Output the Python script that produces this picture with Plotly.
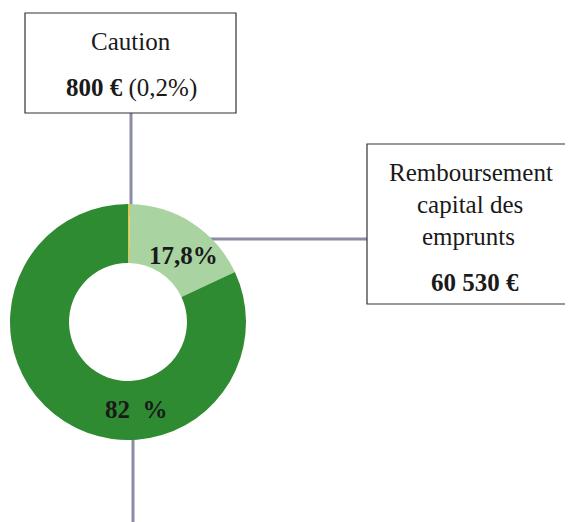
import plotly.graph_objects as go

# ---- data ----
labels = ["Caution", "Remboursement capital des emprunts", "Autres"]
values = [800, 60530, 278670]
slice_texts = ["", "<b>17,8%</b>", "<b>82  %</b>"]
colors = ["#f2c12e", "#a9d3a0", "#2f8b31"]

OFF = 8  # page body margin
W, H = 573 - OFF, 522 - OFF

def X(px):
    return (px - OFF) / W

def Y(py):
    return 1 - (py - OFF) / H

cx, cy, R = 128, 322, 118  # pixel geometry of the donut (page coords)

fig = go.Figure()
fig.add_trace(go.Pie(
    labels=labels, values=values, hole=0.5, sort=False, direction="clockwise",
    rotation=0, marker=dict(colors=colors, line=dict(width=0)),
    textinfo="none", hoverinfo="label+value+percent", showlegend=False,
    domain=dict(x=[X(cx - R), X(cx + R)], y=[Y(cy + R), Y(cy - R)]),
))

serif = "Liberation Serif"
line_col = "#8c8ca4"

def line(x0, y0, x1, y1):
    fig.add_shape(type="line", xref="paper", yref="paper",
                  x0=X(x0), x1=X(x1), y0=Y(y0), y1=Y(y1),
                  line=dict(color=line_col, width=3), layer="below")

def rect(x0, y0, x1, y1):
    fig.add_shape(type="rect", xref="paper", yref="paper",
                  x0=X(x0), x1=X(x1), y0=Y(y0), y1=Y(y1),
                  line=dict(color="#333333", width=1.2), fillcolor="white")

line(131, 113, 131, 215)
line(133, 430, 133, 530)
line(200, 239, 367, 239)
rect(25, 13, 236, 113)
rect(367, 144, 569, 304)

def ann(x, y, text, size=25):
    fig.add_annotation(x=X(x), y=Y(y), xref="paper", yref="paper", text=text,
                       showarrow=False, xanchor="center", yanchor="middle",
                       font=dict(family=serif, size=size, color="#1a1a1a"))

ann(131, 41, labels[0])
ann(131, 88, "<b>800 €</b> (0,2%)")
ann(471, 173, "Remboursement")
ann(470, 205, "capital des")
ann(468, 237, "emprunts")
ann(475, 282, "<b>60 530 €</b>")
ann(183, 255, slice_texts[1])
ann(136, 409, slice_texts[2])

fig.update_layout(
    width=W, height=H, margin=dict(l=0, r=0, t=0, b=0),
    paper_bgcolor="white",
)
fig.write_html("out.html")
